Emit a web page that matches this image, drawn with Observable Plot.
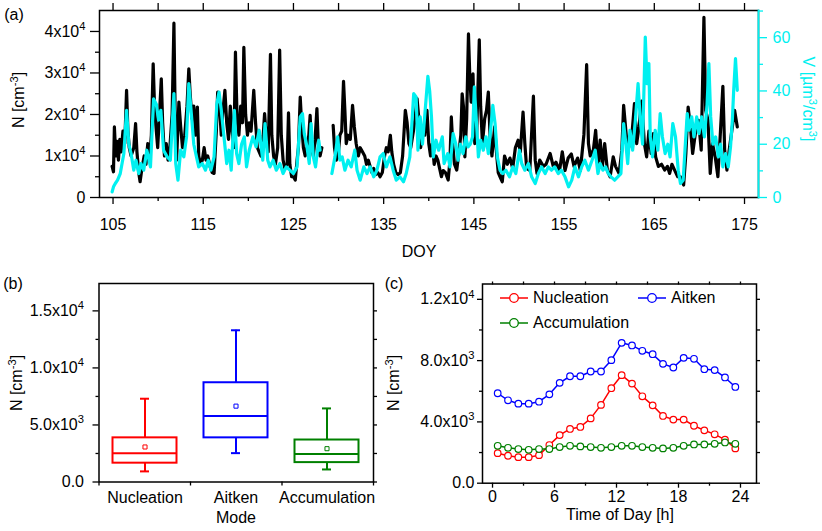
<!DOCTYPE html>
<html><head><meta charset="utf-8">
<script src="https://cdn.jsdelivr.net/npm/d3@7"></script>
<script src="https://cdn.jsdelivr.net/npm/@observablehq/plot@0.6"></script>
<style>
body{margin:0;background:#fff;font-family:"Liberation Sans",Arial,Helvetica,sans-serif;}
#root{position:relative;width:822px;height:531px;overflow:hidden;background:#fff;}
.p{position:absolute;}
.p svg{max-width:none!important;display:block;}
.lbl{position:absolute;font-size:16px;color:#000;white-space:nowrap;line-height:1;}
.lbl sup{font-size:70%;line-height:0;vertical-align:0.5em;}
</style></head><body><div id="root"></div>
<script>
// ---------- DATA ----------
// panel (a): number concentration N (x10^4 cm^-3) vs DOY; null = gap
const nObs = [
[104.9,.75],[105.05,.62],[105.15,1.7],[105.3,1.0],[105.45,1.35],[105.6,.9],[105.75,1.4],[105.9,1.1],[106.1,1.6],[106.3,1.3],[106.5,2.58],[106.65,1.6],[106.8,1.2],[107.0,1.0],[107.3,1.2],[107.5,1.78],[107.65,1.1],[107.85,.6],[108.0,.38],[108.2,.7],[108.45,1.0],[108.65,.8],[108.85,1.3],[109.05,.9],[109.25,1.5],[109.45,3.22],[109.6,2.2],[109.8,1.6],[109.95,1.2],[110.15,2.0],[110.35,2.86],[110.5,1.8],[110.7,1.0],[110.9,1.3],[111.1,.9],[111.3,1.2],[111.55,2.0],[111.75,4.2],[111.9,1.8],[112.05,.9],[112.3,2.3],[112.5,1.7],[112.7,1.2],[112.95,1.5],[113.2,2.2],[113.4,3.1],[113.55,2.5],[113.75,1.9],[113.95,2.2],[114.15,1.5],[114.35,2.18],[114.5,1.0],[114.7,.8],[114.9,.9],[115.1,1.2],[115.3,.9],[115.5,1.0],[115.75,.75],[116.0,.6],[116.2,.58],[116.45,1.6],[116.6,2.54],[116.8,2.2],[117.0,1.5],[117.15,2.0],[117.4,2.58],[117.6,1.8],[117.8,1.4],[118.0,2.2],[118.2,1.6],[118.4,1.2],[118.57,3.5],[118.75,1.9],[118.95,1.5],[119.15,2.2],[119.35,1.8],[119.5,3.62],[119.7,2.0],[119.9,1.5],[120.1,1.8],[120.3,1.6],[120.6,2.58],[120.8,1.8],[121.0,1.2],[121.2,1.1],[121.4,1.0],[121.65,1.5],[121.8,2.02],[122.0,1.4],[122.2,1.1],[122.45,3.45],[122.6,1.5],[122.8,1.0],[123.0,.8],[123.25,1.2],[123.47,3.55],[123.65,1.5],[123.85,.9],[124.05,.7],[124.3,.8],[124.45,2.04],[124.6,.8],[124.8,.5],[125.0,.5],[125.2,.42],[125.4,.9],[125.55,1.2],[125.75,2.42],[125.9,1.8],[126.1,1.2],[126.3,1.0],[126.5,1.2],[126.7,1.5],[126.85,1.98],[127.0,1.2],[127.2,1.0],[127.4,1.4],[127.6,2.14],[127.75,1.3],[127.95,1.0],[128.15,1.2],[128.8,null],
[129.4,1.74],[129.55,1.2],[129.75,.9],[129.95,1.0],[130.15,1.5],[130.35,1.6],[130.55,2.8],[130.7,2.1],[130.85,1.3],[131.05,1.5],[131.3,1.4],[131.55,2.22],[131.75,1.7],[131.95,1.3],[132.2,1.0],[132.4,1.2],[132.65,1.1],[132.9,1.0],[133.1,.8],[133.3,.9],[133.5,.75],[133.7,.6],[133.9,.7],[134.1,.55],[134.35,.6],[134.6,.5],[134.85,.6],[135.1,1.0],[135.3,1.2],[135.5,1.1],[135.74,1.5],[135.9,1.1],[136.1,.8],[136.35,.6],[136.6,.55],[136.85,.6],[137.1,1.0],[137.4,2.1],[137.6,1.8],[137.8,1.3],[138.0,1.2],[138.3,1.6],[138.45,1.86],[138.7,2.38],[138.9,1.9],[139.1,1.2],[139.35,1.7],[139.55,1.5],[139.8,2.1],[140.0,1.3],[140.2,1.0],[140.4,1.3],[140.6,.8],[140.8,1.0],[141.0,.9],[141.2,.7],[141.4,.5],[141.6,.65],[141.85,.6],[142.15,.42],[142.35,.9],[142.5,1.94],[142.65,1.3],[142.85,.8],[143.1,.66],[143.35,1.1],[143.55,1.5],[143.7,2.5],[143.85,2.18],[144.0,.98],[144.2,1.9],[144.4,3.94],[144.55,2.9],[144.7,2.3],[144.9,2.98],[145.1,1.3],[145.3,1.45],[145.6,3.8],[145.75,2.2],[145.95,1.3],[146.2,1.9],[146.4,2.1],[146.6,2.54],[146.8,1.45],[147.0,1.0],[147.3,1.7],[147.5,1.1],[147.7,.6],[147.9,.5],[148.15,.38],[148.4,1.0],[148.7,.8],[149.0,.95],[149.3,.7],[149.6,1.2],[149.9,1.38],[150.15,1.1],[150.45,2.06],[150.65,1.3],[150.85,.7],[151.2,.65],[151.6,2.44],[151.8,.9],[152.0,.58],[152.3,.9],[152.7,.75],[153.0,.8],[153.45,1.06],[153.8,.75],[154.1,.85],[154.5,.65],[154.8,1.1],[155.1,.65],[155.45,.95],[155.8,1.05],[156.1,.75],[156.5,.95],[156.8,.65],[157.2,1.52],[157.5,3.2],[157.7,1.3],[157.9,1.0],[158.25,1.15],[158.5,1.62],[158.75,.75],[159.0,1.38],[159.25,.75],[159.5,1.3],[159.8,.65],[160.1,.5],[160.45,.98],[160.7,.75],[161.1,.58],[161.4,1.14],[161.6,2.22],[161.85,1.6],[162.05,1.14],[162.3,1.3],[162.55,1.6],[162.8,2.26],[163.05,1.3],[163.3,1.7],[163.6,2.32],[163.9,1.3],[164.15,.98],[164.4,1.6],[164.65,1.06],[164.9,1.54],[165.15,.98],[165.45,.75],[165.8,.8],[166.15,.66],[166.45,.75],[166.7,.58],[166.95,.8],[167.25,.66],[167.6,.5],[167.9,.5],[168.25,.3],[168.5,1.06],[168.75,2.18],[169.0,1.7],[169.25,1.06],[169.55,1.54],[169.9,1.86],[170.2,1.14],[170.5,4.34],[170.7,2.1],[170.95,1.86],[171.2,.58],[171.45,1.3],[171.75,.98],[172.05,.5],[172.3,1.46],[172.6,2.68],[172.8,1.14],[173.05,.66],[173.3,1.14],[173.6,1.62],[173.9,2.1],[174.2,1.7]
];
// panel (a): volume concentration V (um^3/cm^3) vs DOY; null = gap
const vObs = [
[104.9,2.1],[105.05,4],[105.25,5.25],[105.5,6.5],[105.8,9],[106.2,16.5],[106.5,32.75],[106.75,20],[107.0,16.5],[107.3,10.25],[107.55,14],[107.85,9],[108.1,12.75],[108.4,10.25],[108.75,17.75],[109.15,11.5],[109.5,37],[109.8,35],[110.05,29],[110.3,32.75],[110.6,17.75],[111.0,15.25],[111.35,14],[111.75,39],[111.95,12.75],[112.2,6.5],[112.5,17.75],[112.85,15.25],[113.15,22.75],[113.4,42.75],[113.65,32.75],[113.95,20],[114.25,15.25],[114.5,11.5],[114.9,12.75],[115.25,10.25],[115.55,14],[115.85,10.25],[116.2,15.25],[116.5,35],[116.75,39.6],[117.0,32.75],[117.3,22.75],[117.6,12.75],[117.85,17.75],[118.1,10.25],[118.45,32.75],[118.7,16.5],[118.95,12.75],[119.25,20],[119.55,22.75],[119.8,11.5],[120.1,17.75],[120.5,22.75],[120.85,19],[121.2,25.25],[121.6,14],[121.85,27.75],[122.15,14],[122.4,11.5],[122.75,14],[123.1,10.25],[123.5,12.75],[123.85,9],[124.2,11.5],[124.6,10.25],[125.0,9],[125.4,11.5],[125.75,30.25],[126.0,31.5],[126.2,24],[126.5,19],[126.75,12.75],[126.95,27.75],[127.2,15.25],[127.45,11.5],[127.8,21.5],[127.95,17.75],[128.7,null],
[129.26,9],[129.6,15.25],[129.9,22.75],[130.15,14],[130.4,15.25],[130.7,10.25],[131.05,14],[131.4,11.5],[131.8,17.75],[132.05,10.25],[132.4,6.5],[132.8,11.5],[133.15,9],[133.5,11.5],[133.9,7.75],[134.25,10.25],[134.6,15.25],[134.95,16.5],[135.3,11.5],[135.7,15.25],[136.05,10.25],[136.4,6.5],[136.8,7.75],[137.2,5.9],[137.5,9],[137.9,15.25],[138.33,39],[138.6,37.75],[138.8,17.75],[139.05,30.25],[139.3,20],[139.6,32.75],[139.9,45.5],[140.1,40],[140.3,30.25],[140.5,15.25],[140.8,21.5],[141.1,17.75],[141.5,22.75],[141.7,12.75],[142.1,16.5],[142.35,11.5],[142.7,24],[143.0,20],[143.25,14],[143.5,20],[143.8,16.5],[144.1,22.75],[144.35,19],[144.6,20],[144.85,22.75],[145.05,41.5],[145.25,30.25],[145.5,15.25],[145.75,21.5],[146.05,17.75],[146.35,22.75],[146.6,16.5],[146.85,25.25],[147.1,34.6],[147.35,27.75],[147.6,15.25],[147.9,10.25],[148.2,9],[148.55,10.25],[148.95,7.75],[149.3,11.5],[149.65,9],[150.05,17.75],[150.3,12.75],[150.65,10.25],[151.05,12.75],[151.4,7.75],[151.8,5.25],[152.15,9],[152.5,11.5],[152.9,9],[153.25,11.5],[153.6,10.25],[153.95,11.5],[154.35,9],[154.7,10.25],[155.1,7.75],[155.5,4],[155.85,6.5],[156.2,11.5],[156.6,7.75],[156.95,11.5],[157.3,14],[157.7,10.25],[158.1,14],[158.45,17.75],[158.75,9],[159.0,12.75],[159.3,10.25],[159.6,11.5],[159.9,9],[160.2,7.75],[160.6,6.5],[160.95,7.75],[161.3,9],[161.6,27.75],[161.85,20],[162.05,12.75],[162.3,25.25],[162.6,17.75],[162.9,29],[163.2,42.75],[163.45,29],[163.7,20],[164.0,60.25],[164.2,42.75],[164.4,50.25],[164.55,22.75],[164.8,15.25],[165.1,25.25],[165.4,17.75],[165.65,31.5],[165.9,22.75],[166.2,16.5],[166.5,20],[166.75,15.25],[167.05,27.75],[167.35,22.75],[167.65,10.25],[167.9,5.25],[168.2,6.5],[168.4,17.75],[168.65,31.5],[168.85,25.25],[169.15,30.25],[169.4,22.75],[169.7,30.25],[169.95,24],[170.25,30.25],[170.55,22.75],[170.85,35],[171.05,50.25],[171.25,30.25],[171.5,20],[171.8,22.75],[172.1,15.25],[172.35,20],[172.6,11.5],[172.9,16.5],[173.2,11.5],[173.45,19],[173.65,29],[173.8,40.25],[174.0,52.1],[174.2,40.25]
];
const doyTicks = [105,115,125,135,145,155,165,175];
const doyMinor = [110,120,130,140,150,160,170];
const nTicks = [0,10000,20000,30000,40000];
const nTickLabels = ["0","1x10^4","2x10^4","3x10^4","4x10^4"];
const nMinor = [5000,15000,25000,35000];
const vTicks = [0,20,40,60];
const vMinor = [10,30,50,70];

// panel (b): box statistics per mode
const modes = ["Nucleation","Aitken","Accumulation"];
const modeColors = ["#ff0000","#0000ff","#008000"];
const boxLow  = [930, 2530, 1100];
const boxQ1   = [1650, 3870, 1700];
const boxMed  = [2520, 5780, 2450];
const boxMean = [3070, 6650, 2920];
const boxQ3   = [3870, 8700, 3680];
const boxHigh = [7300, 13300, 6450];
const bTicks = [0,5000,10000,15000];
const bTickLabels = ["0.0","5.0x10^3","1.0x10^4","1.5x10^4"];
const bMinor = [2500,7500,12500];

// panel (c): diurnal cycles
const hours = [0.5,1.5,2.5,3.5,4.5,5.5,6.5,7.5,8.5,9.5,10.5,11.5,12.5,13.5,14.5,15.5,16.5,17.5,18.5,19.5,20.5,21.5,22.5,23.5];
const nucDiurnal = [1960,1790,1700,1700,1830,2490,3140,3540,3670,4230,5110,6200,7050,6500,5670,5080,4390,4150,4150,3750,3450,3190,2840,2270];
const aitDiurnal = [5870,5410,5190,5190,5320,5800,6550,6980,6980,7290,7290,8030,9160,8990,8640,8420,7790,7550,8180,8120,7440,7380,6900,6280];
const accDiurnal = [2440,2310,2230,2180,2230,2230,2360,2440,2400,2360,2310,2360,2440,2440,2360,2310,2270,2310,2440,2530,2530,2570,2660,2570];
const hTicks = [0,6,12,18,24];
const hMinor = [3,9,15,21];
const cTicks = [0,4000,8000,12000];
const cTickLabels = ["0.0","4.0x10^3","8.0x10^3","1.2x10^4"];
const cMinor = [2000,6000,10000];

// ---------- RENDER ----------
const CYAN = "#00f0f0";
const FONT = "'Liberation Sans', Arial, Helvetica, sans-serif";
const root = document.getElementById("root");
const baseStyle = {fontFamily: FONT, fontSize: "16px", background: "transparent", overflow: "visible", color: "black"};
const blank = () => "";

function supify(svg) {
  svg.querySelectorAll("text").forEach(t => {
    const targets = t.querySelector("tspan") ? Array.from(t.querySelectorAll("tspan")) : [t];
    targets.forEach(el => {
      const s = el.textContent; const i = s.indexOf("^");
      if (i < 0) return;
      el.textContent = s.slice(0, i);
      const sup = document.createElementNS("http://www.w3.org/2000/svg", "tspan");
      sup.setAttribute("font-size", "70%");
      sup.setAttribute("dy", "-0.6em");
      sup.textContent = s.slice(i + 1);
      el.appendChild(sup);
    });
  });
}
function place(svg, left, top, w, h) {
  const d = document.createElement("div");
  d.className = "p";
  Object.assign(d.style, {left: left + "px", top: top + "px", width: w + "px", height: h + "px"});
  supify(svg);
  d.appendChild(svg);
  root.appendChild(d);
}
function label(html, x, y, rot = 0, color = "#000") {
  const d = document.createElement("div");
  d.className = "lbl";
  d.innerHTML = html;
  Object.assign(d.style, {left: x + "px", top: y + "px", color, transform: `translate(-50%,-50%) rotate(${rot}deg)`});
  root.appendChild(d);
}
const lookup = (ticks, labels) => d => labels[ticks.indexOf(d)] ?? "";

// Panel (a) - N (black, left axis)
const nData = nObs.map(([doy, v]) => ({doy, n: v == null ? NaN : v * 1e4}));
const vData = vObs.map(([doy, v]) => ({doy, v: v == null ? NaN : v}));
const aX = {domain: [103.5, 176.55], axis: null};
const aDims = {width: 822, height: 265, marginLeft: 99, marginRight: 64, marginTop: 10, marginBottom: 68};

const plotN = Plot.plot({
  ...aDims, style: baseStyle,
  x: aX, y: {domain: [0, 45050], axis: null},
  marks: [
    Plot.line(nData, {x: "doy", y: "n", stroke: "black", strokeWidth: 3.2, strokeLinejoin: "round"}),
    Plot.frame({stroke: "black", strokeWidth: 1.5}),
    Plot.axisY({anchor: "left", ticks: nTicks, tickFormat: lookup(nTicks, nTickLabels), tickSize: 9, tickPadding: 5, strokeWidth: 1.3, label: null}),
    Plot.axisY({anchor: "left", ticks: nMinor, tickFormat: blank, tickSize: 4, strokeWidth: 1.3, label: null}),
    Plot.axisX({anchor: "bottom", ticks: doyTicks, tickSize: 7, tickPadding: 14, strokeWidth: 1.3, label: null}),
    Plot.axisX({anchor: "bottom", ticks: doyMinor, tickFormat: blank, tickSize: 4, strokeWidth: 1.3, label: null}),
    Plot.axisX({anchor: "top", ticks: doyTicks.concat(doyMinor), tickFormat: blank, tickSize: 8, strokeWidth: 1.3, label: null})
  ]
});
place(plotN, 0, 0, 822, 265);

// Panel (a) - V (cyan, right axis) overlay
const plotV = Plot.plot({
  ...aDims, style: baseStyle,
  x: aX, y: {domain: [0, 70.2], axis: null},
  marks: [
    Plot.line(vData, {x: "doy", y: "v", stroke: CYAN, strokeWidth: 3.2, strokeLinejoin: "round"}),
    Plot.frame({anchor: "right", stroke: CYAN, strokeWidth: 1.8}),
    Plot.axisY({anchor: "right", ticks: vTicks, tickSize: 8, tickPadding: 6, color: CYAN, strokeWidth: 1.3, label: null}),
    Plot.axisY({anchor: "right", ticks: vMinor, tickFormat: blank, tickSize: 4, color: CYAN, strokeWidth: 1.3, label: null})
  ]
});
place(plotV, 0, 0, 822, 265);

// Panel (b) - box plots
const boxes = modes.map((mode, i) => ({mode, low: boxLow[i], q1: boxQ1[i], med: boxMed[i], mean: boxMean[i], q3: boxQ3[i], high: boxHigh[i]}));
const bDims = {width: 400, height: 266, marginLeft: 98.5, marginRight: 27, marginTop: 18, marginBottom: 49.5};
const plotB = Plot.plot({
  ...bDims, style: baseStyle,
  x: {domain: modes, padding: 0, axis: null},
  y: {domain: [0, 17400], axis: null},
  color: {domain: modes, range: modeColors},
  marks: [
    Plot.ruleX(boxes, {x: "mode", y1: "low", y2: "q1", stroke: "mode", strokeWidth: 2}),
    Plot.ruleX(boxes, {x: "mode", y1: "q3", y2: "high", stroke: "mode", strokeWidth: 2}),
    Plot.tickY(boxes, {x: "mode", y: "low", stroke: "mode", strokeWidth: 2, insetLeft: 41, insetRight: 41}),
    Plot.tickY(boxes, {x: "mode", y: "high", stroke: "mode", strokeWidth: 2, insetLeft: 41, insetRight: 41}),
    Plot.barY(boxes, {x: "mode", y1: "q1", y2: "q3", fill: "white", stroke: "mode", strokeWidth: 2, insetLeft: 13.5, insetRight: 13.5}),
    Plot.tickY(boxes, {x: "mode", y: "med", stroke: "mode", strokeWidth: 2, insetLeft: 13.5, insetRight: 13.5}),
    Plot.dot(boxes, {x: "mode", y: "mean", symbol: "square", r: 2.3, stroke: "mode", strokeWidth: 1, fill: "white"}),
    Plot.frame({stroke: "black", strokeWidth: 1.5}),
    Plot.axisY({anchor: "left", ticks: bTicks, tickFormat: lookup(bTicks, bTickLabels), tickSize: 6, tickPadding: 9, strokeWidth: 1.3, label: null}),
    Plot.axisY({anchor: "left", ticks: bMinor, tickFormat: blank, tickSize: 3, strokeWidth: 1.3, label: null}),
    Plot.axisY({anchor: "right", ticks: bTicks.concat(bMinor), tickFormat: blank, tickSize: 3, strokeWidth: 1.3, label: null}),
    Plot.axisX({anchor: "bottom", tickSize: 0, tickPadding: 10, label: null})
  ]
});
place(plotB, 0, 265, 400, 266);

// Panel (b) - category boundary ticks (overlay, linear index scale)
const plotBTicks = Plot.plot({
  ...bDims, style: baseStyle,
  x: {domain: [0, modes.length], axis: null},
  y: {domain: [0, 17400], axis: null},
  marks: [
    Plot.axisX({anchor: "bottom", ticks: d3.range(modes.length + 1), tickFormat: blank, tickSize: 4, strokeWidth: 1.3, label: null})
  ]
});
place(plotBTicks, 0, 265, 400, 266);

// Panel (c) - diurnal cycles
const series = [
  {mode: modes[0], vals: nucDiurnal},
  {mode: modes[1], vals: aitDiurnal},
  {mode: modes[2], vals: accDiurnal}
];
const diurnal = series.flatMap(s => hours.map((h, i) => ({mode: s.mode, h, n: s.vals[i]})));
const plotC = Plot.plot({
  width: 422, height: 266, marginLeft: 82, marginRight: 66, marginTop: 18.5, marginBottom: 48.3,
  style: baseStyle,
  x: {domain: [-0.97, 25.55], axis: null},
  y: {domain: [0, 13000], axis: null},
  color: {domain: modes, range: modeColors},
  marks: [
    Plot.line(diurnal, {x: "h", y: "n", z: "mode", stroke: "mode", strokeWidth: 1.5}),
    Plot.dot(diurnal, {x: "h", y: "n", stroke: "mode", fill: "white", r: 3.3, strokeWidth: 1.2}),
    Plot.frame({stroke: "black", strokeWidth: 1.5}),
    Plot.axisY({anchor: "left", ticks: cTicks, tickFormat: lookup(cTicks, cTickLabels), tickSize: 5, tickPadding: 3, strokeWidth: 1.3, label: null}),
    Plot.axisY({anchor: "left", ticks: cMinor, tickFormat: blank, tickSize: 3, strokeWidth: 1.3, label: null}),
    Plot.axisY({anchor: "right", ticks: cTicks.concat(cMinor), tickFormat: blank, tickSize: 3, strokeWidth: 1.3, label: null}),
    Plot.axisX({anchor: "bottom", ticks: hTicks, tickSize: 5, tickPadding: 2, strokeWidth: 1.3, label: null}),
    Plot.axisX({anchor: "bottom", ticks: hMinor, tickFormat: blank, tickSize: 3, strokeWidth: 1.3, label: null}),
    Plot.axisX({anchor: "top", ticks: hTicks.concat(hMinor), tickFormat: blank, tickSize: 3, strokeWidth: 1.3, label: null})
  ]
});
place(plotC, 400, 265, 422, 266);

// Legend for panel (c)
function legendItem(i, x, y) {
  const d = document.createElement("div");
  d.className = "lbl";
  Object.assign(d.style, {left: x + "px", top: y + "px", transform: "translateY(-50%)", display: "flex", alignItems: "center"});
  const c = modeColors[i];
  d.innerHTML = `<svg width="30" height="12" style="margin-right:4px"><line x1="1" x2="29" y1="6" y2="6" stroke="${c}" stroke-width="1.5"/><circle cx="15" cy="6" r="4.3" fill="white" stroke="${c}" stroke-width="1.3"/></svg><span>${modes[i]}</span>`;
  root.appendChild(d);
}
legendItem(0, 499, 298);
legendItem(1, 637, 298);
legendItem(2, 499, 323);

// Titles and panel letters
label("(a)", 14, 15);
label("N [cm<sup>-3</sup>]", 19, 100, -90);
label("DOY", 419, 252);
label("V [µm<sup>3</sup>/cm<sup>3</sup>]", 808, 99, 90, CYAN);
label("(b)", 13, 284);
label("N [cm<sup>-3</sup>]", 17, 383, -90);
label("Mode", 236, 518);
label("(c)", 394, 284);
label("N [cm<sup>-3</sup>]", 394, 383, -90);
label("Time of Day [h]", 620, 515);
</script></body></html>
